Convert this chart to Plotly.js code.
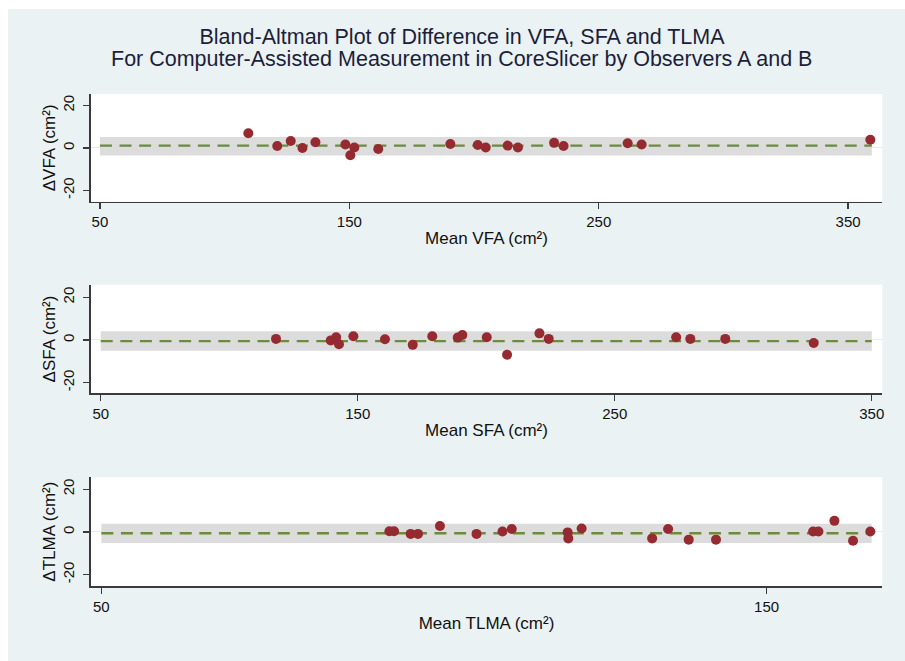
<!DOCTYPE html>
<html>
<head>
<meta charset="utf-8">
<script src="https://cdn.plot.ly/plotly-3.0.1.min.js"></script>
<style>html,body{margin:0;padding:0;background:#fff;}#chart{width:905px;height:661px;}</style>
</head>
<body>
<div id="chart"></div>
<script>
// ---- data ----
var titleLine1 = "Bland-Altman Plot of Difference in VFA, SFA and TLMA";
var titleLine2 = "For Computer-Assisted Measurement in CoreSlicer by Observers A and B";

var vfaMean = [109.5,121.1,126.5,131.2,136.4,148.4,150.4,152.0,161.6,190.5,201.5,204.7,213.5,217.6,232.1,235.9,261.6,267.2,358.9];
var vfaDiff = [6.9,0.9,3.3,0.0,2.7,1.6,-3.4,0.2,-0.5,1.9,1.4,0.2,1.1,0.2,2.4,0.9,2.2,1.6,3.9];
var vfaBias = 1.1, vfaUpper = 5.2, vfaLower = -3.5, vfaLineStart = 50, vfaLineEnd = 359.5;

var sfaMean = [118.2,139.5,141.6,142.7,148.3,160.6,171.4,179.0,188.9,190.7,200.2,208.1,220.7,224.3,273.9,279.4,293.0,327.4];
var sfaDiff = [0.5,-0.2,1.3,-2.0,1.7,0.3,-2.3,1.7,1.1,2.3,1.3,-6.9,3.1,0.5,1.3,0.5,0.5,-1.4];
var sfaBias = -0.5, sfaUpper = 4.1, sfaLower = -5.0, sfaLineStart = 50, sfaLineEnd = 350;

var tlmaMean = [93.3,94.0,96.5,97.6,100.9,106.4,110.3,111.7,120.1,120.2,122.2,132.8,135.2,138.3,142.4,157.0,157.8,160.2,163.0,165.6];
var tlmaDiff = [0.3,0.3,-0.9,-0.9,2.8,-0.9,0.2,1.4,-0.2,-3.0,1.6,-3.0,1.4,-3.6,-3.6,0.2,0.2,5.2,-4.1,0.2];
var tlmaBias = -0.6, tlmaUpper = 3.8, tlmaLower = -5.2, tlmaLineStart = 50, tlmaLineEnd = 165.8;

var xTicksVFA = [50,150,250,350];
var xTicksSFA = [50,150,250,350];
var xTicksTLMA = [50,150];
var yTickVals = [-20,0,20];
var yTickText = ["-20","0","20"];

var xTitles = ["Mean VFA (cm²)","Mean SFA (cm²)","Mean TLMA (cm²)"];
var yTitles = ["ΔVFA (cm²)","ΔSFA (cm²)","ΔTLMA (cm²)"];

// ---- styling ----
var W = 905, H = 661;
var markerColor = "#962A31";
var biasColor = "#6B8B3D";
var bandColor = "#DCDCDC";
var axisColor = "#3A3A3A";
var bgColor = "#EAF2F3";
var fontFam = "Liberation Sans, Arial, Helvetica, sans-serif";

function py(top, bottom){ return [1 - bottom/H, 1 - top/H]; }
var xDom = [90.7/W, 882.3/W];

var panels = [
  {mean: vfaMean, diff: vfaDiff, bias: vfaBias, up: vfaUpper, lo: vfaLower, s: vfaLineStart, e: vfaLineEnd, xr:[46.3,363.7], yr:[-25.3,25.4], ticks: xTicksVFA, dom: py(94,201.7)},
  {mean: sfaMean, diff: sfaDiff, bias: sfaBias, up: sfaUpper, lo: sfaLower, s: sfaLineStart, e: sfaLineEnd, xr:[46.1,354.1], yr:[-25.0,25.9], ticks: xTicksSFA, dom: py(284.7,393.3)},
  {mean: tlmaMean, diff: tlmaDiff, bias: tlmaBias, up: tlmaUpper, lo: tlmaLower, s: tlmaLineStart, e: tlmaLineEnd, xr:[48.4,167.4], yr:[-25.3,25.6], ticks: xTicksTLMA, dom: py(477.3,586)}
];

var traces = [];
var shapes = [
  // white outer strips like the reference image edges
  {type:"rect", xref:"paper", yref:"paper", x0:0, x1:1, y0:1-9/H, y1:1, fillcolor:"#ffffff", line:{width:0}, layer:"below"},
  {type:"rect", xref:"paper", yref:"paper", x0:0, x1:8/W, y0:0, y1:1, fillcolor:"#ffffff", line:{width:0}, layer:"below"}
];
var layout = {
  width: W, height: H,
  margin: {l:0, r:0, t:0, b:0},
  paper_bgcolor: bgColor,
  plot_bgcolor: "#ffffff",
  showlegend: false,
  font: {family: fontFam, color: "#111111"},
  title: {
    text: titleLine1,
    font: {family: fontFam, size: 21.5, color: "#1C1E3A"},
    x: 462/W, xanchor: "center", xref: "container",
    y: 1 - 36/H, yanchor: "middle", yref: "container"
  },
  annotations: [
    {text: titleLine2, xref:"paper", yref:"paper", x: 462/W, y: 1 - 59.5/H, xanchor:"center", yanchor:"middle",
     showarrow:false, font:{family: fontFam, size:21.5, color:"#1C1E3A"}}
  ],
  shapes: shapes
};

panels.forEach(function(p, i){
  var n = i === 0 ? "" : String(i+1);
  var xa = "x" + n, ya = "y" + n;
  // limits-of-agreement band
  shapes.push({type:"rect", xref: xa, yref: ya, x0: p.s, x1: p.e, y0: p.lo, y1: p.up,
    fillcolor: bandColor, line:{width:0}, layer:"between"});
  // bias line
  traces.push({type:"scatter", mode:"lines", x:[p.s, p.e], y:[p.bias, p.bias], xaxis: xa, yaxis: ya,
    line:{color: biasColor, width: 2.3, dash: "12px,7.6px"}, hoverinfo:"skip"});
  // points
  traces.push({type:"scatter", mode:"markers", x: p.mean, y: p.diff, xaxis: xa, yaxis: ya,
    marker:{color: markerColor, size: 10, line:{width:0}}});
  layout["xaxis" + n] = {
    domain: xDom, anchor: ya, range: p.xr,
    tickvals: p.ticks, ticks: "outside", ticklen: 6, tickwidth: 1.3, tickcolor: axisColor,
    showline: true, linecolor: axisColor, linewidth: 1.6,
    showgrid: false, zeroline: false, automargin: false,
    ticklabelstandoff: 0,
    tickfont: {family: fontFam, size: 15, color: "#111111"},
    title: {text: xTitles[i], font: {family: fontFam, size: 17, color:"#111111"}, standoff: 3}
  };
  layout["yaxis" + n] = {
    domain: p.dom, anchor: xa, range: p.yr,
    tickvals: yTickVals, ticktext: yTickText, tickangle: -90,
    ticks: "outside", ticklen: 6, tickwidth: 1.3, tickcolor: axisColor,
    showline: true, linecolor: axisColor, linewidth: 1.6,
    showgrid: false, zeroline: true, zerolinecolor: "#E3ECEF", zerolinewidth: 1,
    automargin: false, ticklabelstandoff: 3,
    tickfont: {family: fontFam, size: 15, color: "#111111"},
    title: {text: yTitles[i], font: {family: fontFam, size: 17, color:"#111111"}, standoff: 0}
  };
});

Plotly.newPlot("chart", traces, layout, {displayModeBar: false, staticPlot: true});
</script>
</body>
</html>
